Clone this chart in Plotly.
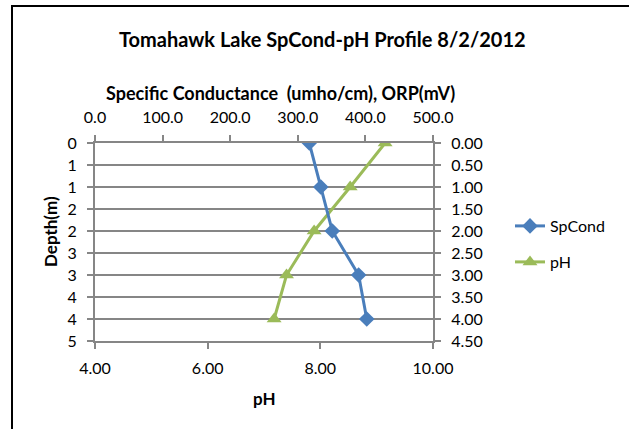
import plotly.graph_objects as go

# ---- data ----
depth = [0, 1, 2, 3, 4]
spcond = [317, 334, 351, 390, 402]
ph = [9.15, 8.53, 7.89, 7.40, 7.18]

left_tickvals = [0, 0.5, 1, 1.5, 2, 2.5, 3, 3.5, 4, 4.5]
left_ticktext = ["0", "1", "1", "2", "2", "3", "3", "4", "4", "5"]

title = "Tomahawk Lake SpCond-pH Profile 8/2/2012"
top_title = "Specific Conductance  (umho/cm), ORP(mV)"
bottom_title = "pH"
left_title = "Depth(m)"

W, H = 630, 429
L, R, T, B = 95, 433, 143, 341  # plot area in px
FONT = "Lato"
GRAY = "#868686"


def px(x):
    return (x - L) / (R - L)


def py(y):
    return (B - y) / (B - T)


fig = go.Figure()
fig.add_trace(go.Scatter(
    x=spcond, y=depth, name="SpCond", xaxis="x2", yaxis="y",
    mode="lines+markers",
    line=dict(color="#4A7EBB", width=3),
    marker=dict(symbol="diamond", size=12, color="#4A7EBB"),
    legend="legend",
))
fig.add_trace(go.Scatter(
    x=ph, y=depth, name="pH", xaxis="x", yaxis="y",
    mode="lines+markers",
    line=dict(color="#9BBB59", width=3),
    marker=dict(symbol="triangle-up", size=13, color="#9BBB59"),
    legend="legend2",
))
# invisible trace to make the right axis appear
fig.add_trace(go.Scatter(x=[None], y=[None], xaxis="x", yaxis="y2",
                         showlegend=False, hoverinfo="skip"))

tickfont = dict(family=FONT, size=16, color="#000000")
axis_common = dict(showline=True, linecolor=GRAY, linewidth=2, ticks="outside",
                   ticklen=6, tickwidth=2, tickcolor=GRAY, tickfont=tickfont,
                   zeroline=False)

fig.update_layout(
    width=W, height=H,
    margin=dict(l=L, r=W - R, t=T, b=H - B, pad=0),
    paper_bgcolor="white", plot_bgcolor="white",
    font=dict(family=FONT, color="#000000"),
    xaxis=dict(range=[4, 10], dtick=2, tickformat=".2f", showgrid=False,
               ticklabelstandoff=6, **axis_common),
    xaxis2=dict(range=[0, 500], dtick=100, tickformat=".1f", overlaying="x",
                side="top", showgrid=False, ticklabelstandoff=6,
                **axis_common),
    yaxis=dict(range=[4.5, 0], tickvals=left_tickvals, ticktext=left_ticktext,
               showgrid=True, gridcolor=GRAY, gridwidth=2,
               ticklabelstandoff=7, **axis_common),
    yaxis2=dict(range=[4.5, 0], dtick=0.5, tickformat=".2f", overlaying="y",
                side="right", showgrid=False, ticklabelstandoff=7,
                **axis_common),
    legend=dict(x=510 / W, y=1 - 226 / H, xref="container", yref="container",
                xanchor="left", yanchor="middle", bgcolor="rgba(0,0,0,0)",
                font=dict(family=FONT, size=16, color="#000000")),
    legend2=dict(x=510 / W, y=1 - 262 / H, xref="container", yref="container",
                 xanchor="left", yanchor="middle", bgcolor="rgba(0,0,0,0)",
                 font=dict(family=FONT, size=16, color="#000000")),
    showlegend=True,
)

annotations = [
    dict(text="<b>%s</b>" % title, x=px(322), y=py(39),
         font=dict(family=FONT, size=20)),
    dict(text="<b>%s</b>" % top_title, x=px(280), y=py(93),
         font=dict(family=FONT, size=18)),
    dict(text="<b>%s</b>" % bottom_title, x=px(264), y=py(398),
         font=dict(family=FONT, size=17)),
    dict(text="<b>%s</b>" % left_title, x=px(50), y=py(231), textangle=-90,
         font=dict(family=FONT, size=17)),
]
for a in annotations:
    a.update(xref="paper", yref="paper", showarrow=False,
             xanchor="center", yanchor="middle")
fig.update_layout(annotations=annotations)

# chart border (top and left edges visible) drawn as one open path
fig.add_shape(type="path", xref="paper", yref="paper",
              path="M %f,%f L %f,%f L %f,%f" % (px(12), py(429), px(12), py(6),
                                                px(629), py(6)),
              line=dict(color="black", width=2))

css = ("html,body{margin:0;padding:0;overflow:hidden;}"
       "::-webkit-scrollbar{display:none;width:0;height:0;}")
fig.write_html("out.html",
               config={"displayModeBar": False},
               post_script="var s=document.createElement('style');"
                           "s.innerHTML='" + css + "';"
                           "document.head.appendChild(s);")
